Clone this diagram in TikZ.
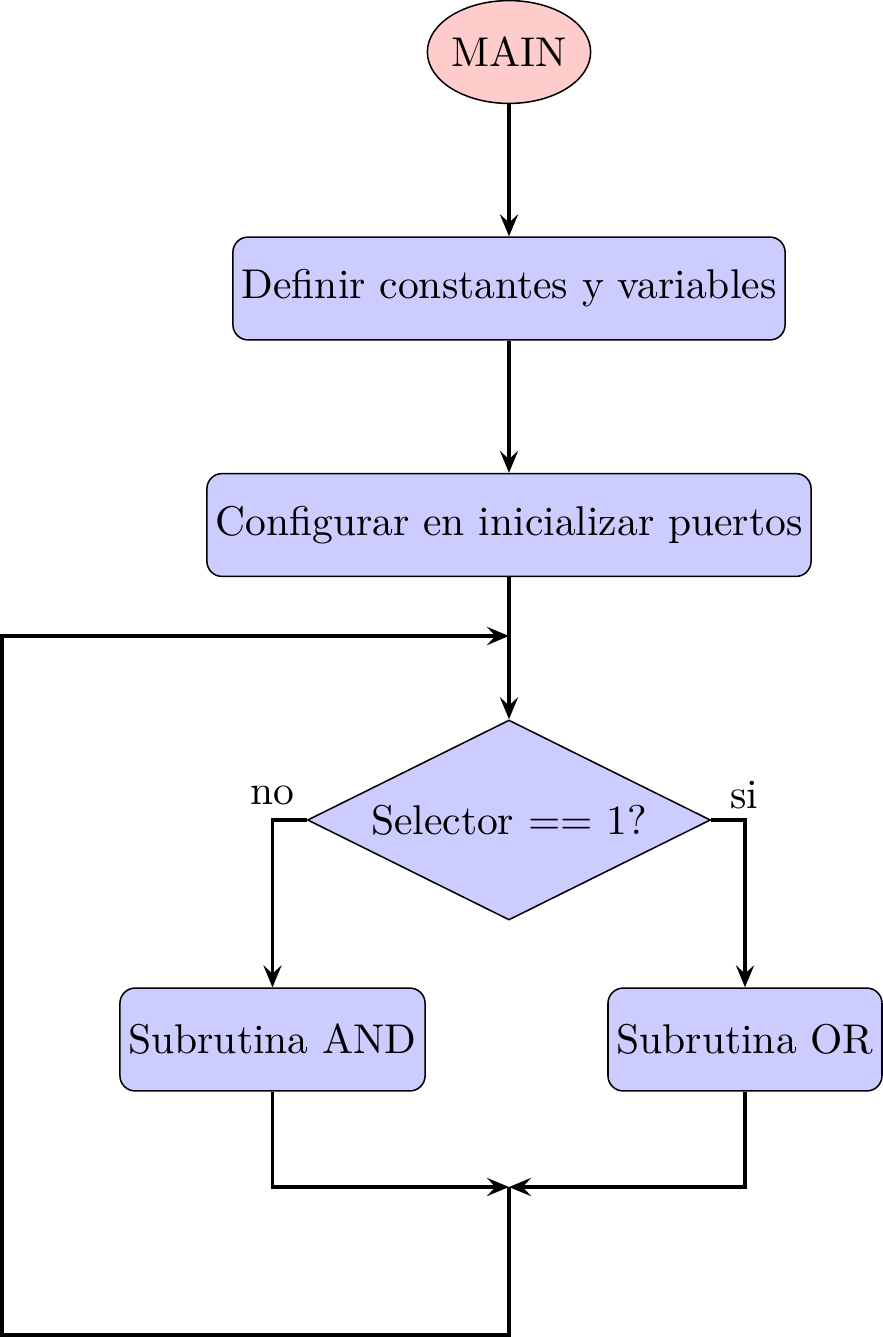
\documentclass[tikz,border=0pt]{standalone}
\usetikzlibrary{shapes.geometric,arrows.meta}
\begin{document}
\begin{tikzpicture}[x=0.2635pt,y=-0.2635pt,
  every node/.append style={font=\fontsize{10.95pt}{13.6pt}\selectfont},
  startnode/.style={ellipse,draw,fill=red!20,inner sep=0pt,minimum width=42.9pt,minimum height=27.1pt},
  procbox/.style={rectangle,draw,rounded corners=4pt,fill=blue!20,inner sep=0pt,minimum height=27.1pt},
  decnode/.style={diamond,draw,fill=blue!20,inner sep=0pt,shape aspect=2,minimum width=106.2pt,minimum height=52.7pt},
  arr/.style={thick,-{Stealth[length=5.8pt,width=4.8pt,inset=2.2pt]}}]
\useasboundingbox (0,0) rectangle (883,1337);
\node[startnode] (main) at (509,52) {MAIN};
\node[procbox,minimum width=145.5pt] (def) at (509,288.5) {Definir constantes y variables};
\node[procbox,minimum width=159.2pt] (conf) at (509,525) {Configurar en inicializar puertos};
\node[decnode] (sel) at (509,820) {Selector == 1?};
\node[procbox,minimum width=80.4pt] (and) at (272.5,1039.5) {Subrutina AND};
\node[procbox,minimum width=72.2pt] (or) at (745,1039.5) {Subrutina OR};
\node (no) at (272,795) {no};
\node (si) at (744,795) {si};
\coordinate (j1) at (509,636);
\coordinate (j2) at (509,1187);
\coordinate (c1) at (509,1335);
\coordinate (c2) at (2,1335);
\coordinate (c3) at (2,636);
\draw[arr] (main) -- (def);
\draw[arr] (def) -- (conf);
\draw[arr] (conf) -- (sel);
\draw[arr] (sel.west) -| (and.north);
\draw[arr] (sel.east) -| (or.north);
\draw[arr] (and.south) |- (j2);
\draw[arr] (or.south) |- (j2);
\draw[arr] (j2) -- (c1) -- (c2) -- (c3) -- (j1);
\end{tikzpicture}
\end{document}
